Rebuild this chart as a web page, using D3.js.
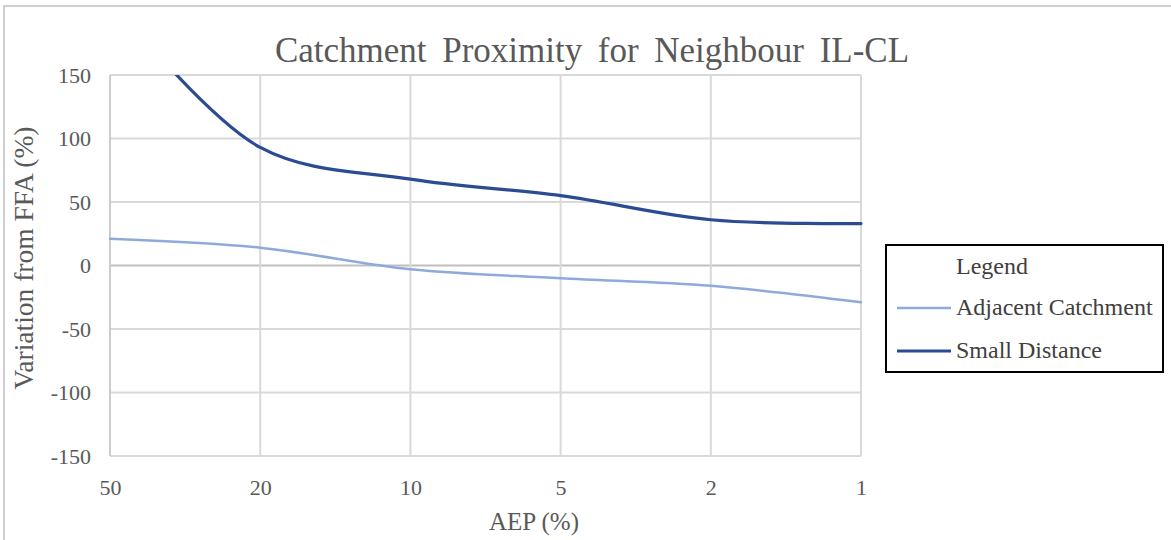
<!DOCTYPE html>
<html>
<head>
<meta charset="utf-8">
<script src="https://cdn.jsdelivr.net/npm/d3@7/dist/d3.min.js"></script>
<style>
  html, body { margin: 0; padding: 0; background: #ffffff; }
  svg { display: block; }
</style>
</head>
<body>
<svg id="chart" width="1171" height="540"></svg>
<script>
// AEP categories (%), plotted at equal spacing
const aepLabels = ["50", "20", "10", "5", "2", "1"];
// Variation from FFA (%) for each neighbour type
const adjacentCatchment = [21, 14, -3, -10, -16, -29];
const smallDistance = [210, 93, 68, 55, 36, 33];
// Value axis ticks
const yTicks = [-150, -100, -50, 0, 50, 100, 150];

const seriesNames = ["Adjacent Catchment", "Small Distance"];
const seriesValues = [adjacentCatchment, smallDistance];
const seriesColors = ["#8eaadb", "#2b4b93"];
const seriesWidths = [2.5, 3.2];

const SERIF = '"Liberation Serif", "Times New Roman", serif';
const TEXT_GREY = "#595959";

const svg = d3.select("#chart");
const W = 1171, H = 540;
const plot = { left: 110, right: 861, top: 75, bottom: 456 };

// outer chart frame (top and left edges visible)
svg.append("rect")
  .attr("x", 4).attr("y", 6)
  .attr("width", W + 10).attr("height", H + 10)
  .attr("fill", "#ffffff")
  .attr("stroke", "#cfcfcf").attr("stroke-width", 2);

const x = d3.scalePoint().domain(aepLabels).range([plot.left, plot.right]);
const y = d3.scaleLinear().domain([-150, 150]).range([plot.bottom, plot.top]);

// gridlines
const grid = svg.append("g");
grid.selectAll("line.h").data(yTicks).join("line")
  .attr("x1", plot.left).attr("x2", plot.right)
  .attr("y1", d => y(d)).attr("y2", d => y(d))
  .attr("stroke", d => d === 0 ? "#bfbfbf" : "#d9d9d9")
  .attr("stroke-width", 2);
grid.selectAll("line.v").data(aepLabels).join("line")
  .attr("y1", plot.top).attr("y2", plot.bottom)
  .attr("x1", d => x(d)).attr("x2", d => x(d))
  .attr("stroke", (d, i) => i === 0 ? "#cccccc" : "#d9d9d9")
  .attr("stroke-width", 2);

// y axis labels
const yAxis = d3.axisLeft(y).tickValues(yTicks).tickSize(0).tickPadding(19)
  .tickFormat(d => String(d));
const gy = svg.append("g").attr("transform", `translate(${plot.left},0)`).call(yAxis);
gy.select(".domain").remove();
gy.attr("font-family", SERIF).attr("font-size", 22);
gy.selectAll("text").attr("fill", TEXT_GREY);

// x axis labels (below plot area)
const xAxis = d3.axisBottom(x).tickSize(0).tickPadding(23);
const gx = svg.append("g").attr("transform", `translate(0,${plot.bottom})`).call(xAxis);
gx.select(".domain").remove();
gx.attr("font-family", SERIF).attr("font-size", 22);
gx.selectAll("text").attr("fill", TEXT_GREY);

// series lines, clipped to plot area
svg.append("clipPath").attr("id", "plotClip")
  .append("rect")
  .attr("x", plot.left - 2).attr("y", plot.top)
  .attr("width", plot.right - plot.left + 4).attr("height", plot.bottom - plot.top);

const line = d3.line()
  .x((d, i) => x(aepLabels[i]))
  .y(d => y(d))
  .curve(d3.curveCatmullRom.alpha(0.5));

svg.append("g").attr("clip-path", "url(#plotClip)")
  .selectAll("path").data(seriesValues).join("path")
  .attr("d", d => line(d))
  .attr("fill", "none")
  .attr("stroke", (d, i) => seriesColors[i])
  .attr("stroke-width", (d, i) => seriesWidths[i])
  .attr("stroke-linecap", "round");

// title
const title = svg.append("text")
  .attr("x", 592).attr("y", 62)
  .attr("text-anchor", "middle")
  .attr("font-family", SERIF)
  .attr("font-size", 35)
  .attr("fill", TEXT_GREY)
  .text("Catchment Proximity for Neighbour IL-CL");
const tl = title.node().getComputedTextLength();
title.attr("word-spacing", Math.max(0, (641 - tl) / 5));

// axis titles
svg.append("text")
  .attr("x", 534).attr("y", 530)
  .attr("text-anchor", "middle")
  .attr("font-family", SERIF)
  .attr("font-size", 25).attr("fill", TEXT_GREY)
  .text("AEP (%)");

svg.append("text")
  .attr("transform", "translate(33,258) rotate(-90)")
  .attr("text-anchor", "middle")
  .attr("font-family", SERIF)
  .attr("font-size", 27.5).attr("fill", TEXT_GREY)
  .text("Variation from FFA (%)");

// legend
const lg = svg.append("g").attr("font-family", SERIF);
lg.append("rect")
  .attr("x", 886).attr("y", 245).attr("width", 277).attr("height", 127)
  .attr("fill", "#ffffff").attr("stroke", "#000000").attr("stroke-width", 2);
lg.append("text")
  .attr("x", 956).attr("y", 274)
  .attr("font-size", 24).attr("fill", "#404040")
  .text("Legend");
const rows = lg.selectAll("g.item").data(seriesNames).join("g")
  .attr("transform", (d, i) => `translate(0,${308 + i * 43})`);
rows.append("line")
  .attr("x1", 897).attr("x2", 951).attr("y1", 0).attr("y2", 0)
  .attr("stroke", (d, i) => seriesColors[i])
  .attr("stroke-width", (d, i) => seriesWidths[i]);
rows.append("text")
  .attr("x", 956).attr("y", 7)
  .attr("font-size", 24).attr("fill", "#404040")
  .text(d => d);
</script>
</body>
</html>
